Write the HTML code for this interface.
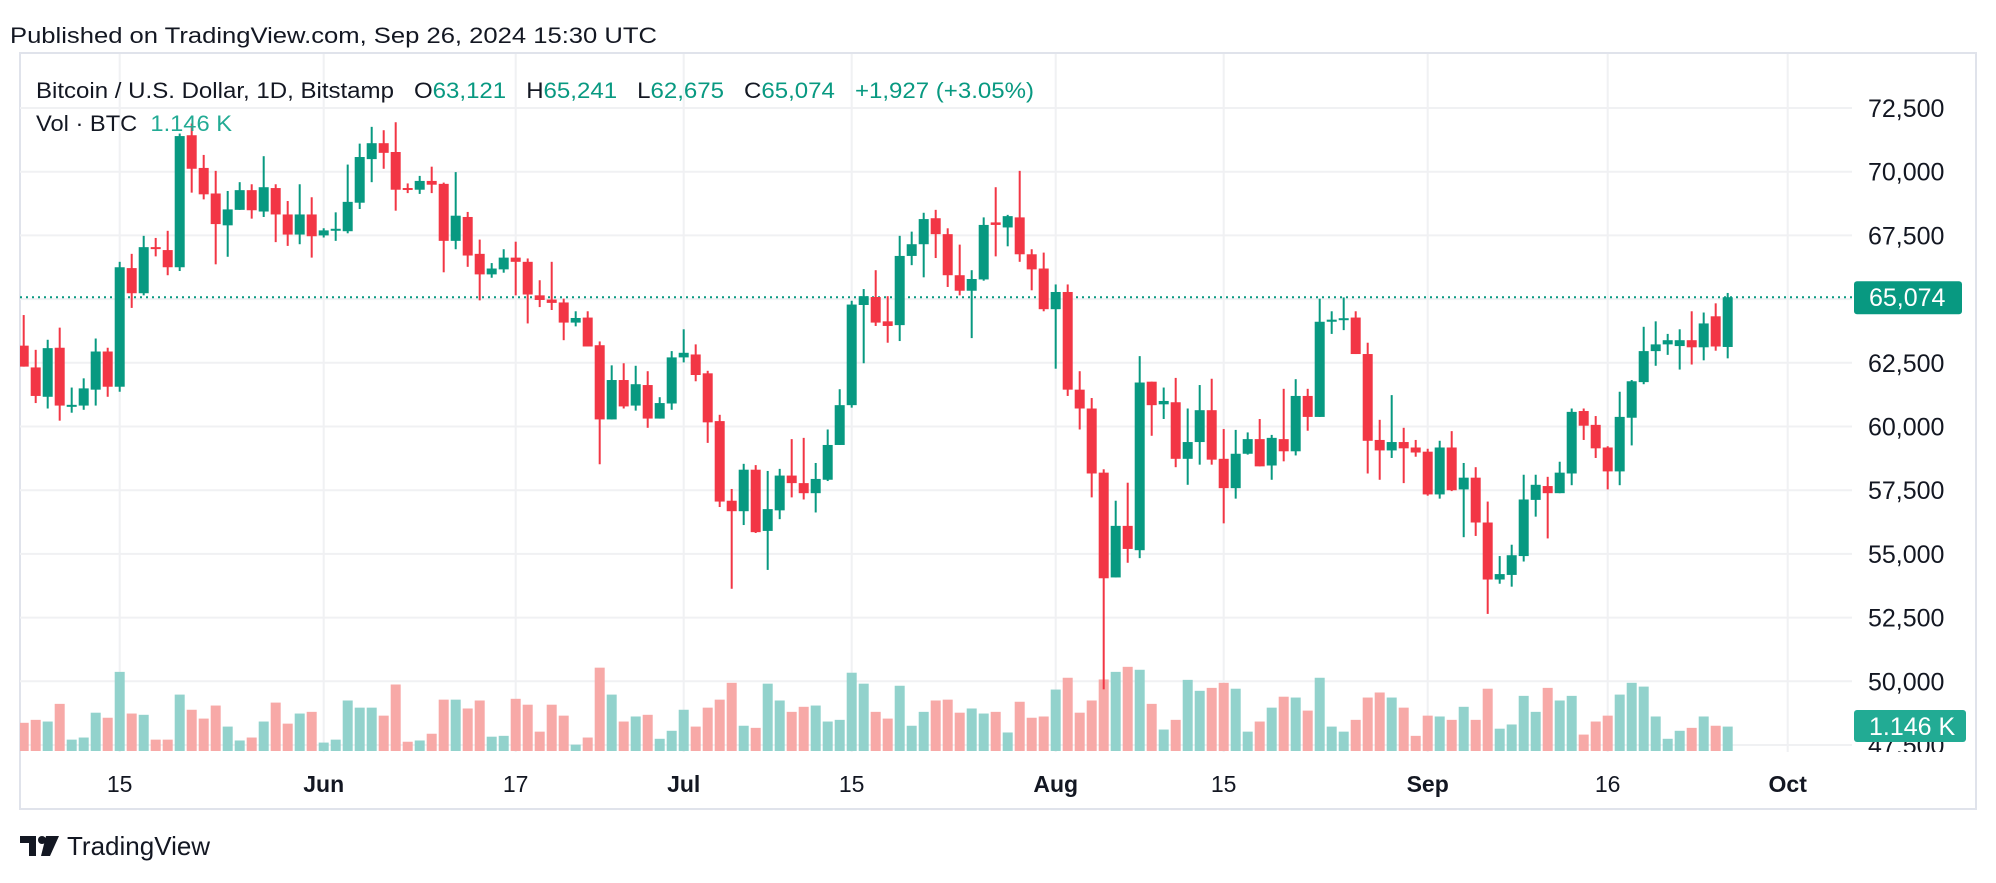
<!DOCTYPE html>
<html><head><meta charset="utf-8"><style>
html,body{margin:0;padding:0;background:#fff;}
body{width:1996px;height:878px;overflow:hidden;font-family:"Liberation Sans",sans-serif;}
svg text{font-family:"Liberation Sans",sans-serif;white-space:pre;}
</style></head><body>
<svg id="chart" width="1996" height="878" viewBox="0 0 1996 878" xmlns="http://www.w3.org/2000/svg">
<defs><clipPath id="plotclip"><rect x="20" y="53" width="1956" height="699"/></clipPath></defs>
<text x="10" y="43" font-size="22" fill="#131722" textLength="647" lengthAdjust="spacingAndGlyphs">Published on TradingView.com, Sep 26, 2024 15:30 UTC</text>
<rect x="20" y="53" width="1956" height="756" fill="none" stroke="#e0e3eb" stroke-width="2"/>
<g id="grid"></g>
<g id="vols" clip-path="url(#plotclip)"></g>
<g id="candles" clip-path="url(#plotclip)"></g>
<g id="yaxis" clip-path="url(#plotclip)"></g>
<g id="xaxis"></g>
<g>
<text x="36" y="98" font-size="22" fill="#131722" textLength="998" lengthAdjust="spacingAndGlyphs">Bitcoin / U.S. Dollar, 1D, Bitstamp   O<tspan fill="#089981">63,121</tspan>   H<tspan fill="#089981">65,241</tspan>   L<tspan fill="#089981">62,675</tspan>   C<tspan fill="#089981">65,074</tspan>   <tspan fill="#089981">+1,927 (+3.05%)</tspan></text>
<text x="36" y="131" font-size="22" fill="#131722" textLength="196" lengthAdjust="spacingAndGlyphs">Vol · BTC  <tspan fill="#22ab94">1.146 K</tspan></text>
</g>
<g>
<path d="M20 836h16v20h-7v-13h-9z M46 836h13l-9 20h-9z" fill="#131722"/>
<circle cx="42" cy="840" r="4" fill="#131722"/>
<text x="67" y="855" font-size="26" fill="#131722">TradingView</text>
</g>
</svg>
<script>
const opens=[63173,62318,61166,63091,60800,60821,61446,62943,61561,66217,65230,67040,66924,66250,71431,70148,69145,67895,68503,69276,68437,69358,68322,67533,68322,67500,67730,67664,68783,70494,71119,70773,69360,69293,69638,69523,67286,68223,66776,65970,66167,66628,66463,65147,64983,64868,64078,64275,63190,60278,61824,60821,61627,60311,60903,62712,62827,62087,60212,57087,56676,58305,55902,56709,58074,57778,57383,57910,59275,60838,64769,65082,64127,63979,66694,67154,68174,67549,65937,65328,65772,68010,67812,68207,66759,66200,64604,65279,61446,60706,58189,54076,56100,55145,61759,60870,60952,58732,59390,60640,58732,57580,58930,59505,58469,59505,59027,61199,60376,64111,64210,64276,62844,59472,59061,59390,59176,59012,57334,59176,57531,57992,56232,53994,54175,54915,57120,57663,57383,58156,60607,60064,59176,58238,60344,61742,62959,63223,63157,63387,63108,64325,63121];
const highs=[64374,63009,63404,63880,61529,61890,63453,63091,66463,66776,67483,67400,67680,71497,71892,70658,70033,69243,69589,69507,70609,69507,68849,69507,68997,67780,68405,70280,71102,71760,71628,71941,69540,69835,70197,69572,69984,68421,67335,66414,66957,67253,66595,65740,66463,65016,64522,64522,63338,62400,62482,62383,62170,61150,62959,63815,63223,62186,60459,57548,58535,58485,58255,58337,59505,59554,58568,59883,61463,64934,65394,66134,65114,67483,67648,68388,68503,67779,67138,66134,68207,69391,68306,70033,66957,66825,65575,65575,62170,61117,58321,57087,57794,62762,61759,61529,61907,60706,61627,61874,59900,59867,59768,60294,59670,61479,61857,61479,65016,64522,65065,64522,63288,60262,61232,59949,59472,59127,59440,59818,58568,58403,57054,54915,55360,58107,58107,58025,58617,60706,60706,60410,59225,61364,61824,63913,64127,63634,63815,64522,64473,64834,65241];
const lows=[62350,60920,60706,60229,60541,60656,60821,61166,61364,64654,65147,66677,65937,66102,69178,68914,66365,66661,68503,68158,68223,67236,67088,67154,66628,67417,67286,67582,68536,69589,70115,68470,69160,69128,69160,66052,66957,66266,64950,65838,66036,65147,64045,64687,64572,63387,63930,63140,58518,60278,60706,60623,59949,60311,60656,62515,61775,59357,56840,53632,56133,55820,54372,56363,57218,57136,56626,57860,59275,60739,62482,63946,63288,63354,66332,65855,66612,65476,65147,63469,65723,66677,67072,66463,65345,64522,62268,61199,59883,57218,49684,54076,54652,54833,59636,60295,58403,57712,58502,58502,56199,57169,58896,58436,57909,58633,58864,59834,60376,63634,63782,62844,58156,57909,58765,57778,58814,57284,57169,57465,55656,55705,52645,53829,53714,54701,56462,55607,57383,57696,59472,58765,57531,57696,59258,61660,62383,62811,62235,62432,62597,62975,62675];
const closes=[62350,61199,63075,60821,60850,61496,62943,61561,66250,65230,67039,66970,66250,71398,70115,69112,67944,68520,69276,68487,69391,68322,67533,68322,67467,67697,67760,68816,70576,71119,70740,69293,69330,69638,69490,67286,68273,66710,65970,66200,66628,66463,65180,64966,64851,64078,64259,63140,60278,61824,60788,61660,60311,60920,62712,62893,62021,60163,57054,56676,58305,55853,56758,58074,57778,57383,57942,59275,60838,64786,65114,64078,63946,66694,67154,68141,67549,65937,65328,65789,67911,67911,68256,66759,66167,64604,65279,61446,60706,58156,54043,56100,55195,61726,60837,61002,58732,59390,60640,58699,57580,58930,59505,58436,59554,59027,61199,60376,64111,64193,64250,62844,59439,59061,59390,59143,58979,57334,59176,57498,57992,56232,53994,54208,54948,57136,57712,57383,58189,60574,60031,59143,58238,60377,61775,62959,63223,63387,63387,63108,64045,63140,65074];
const volumes=[67,74,70,112,27,32,91,79,188,89,86,27,27,134,98,77,108,58,25,32,70,115,65,89,93,20,27,120,103,103,84,158,22,25,41,122,122,101,120,34,36,124,110,46,110,84,15,32,198,134,70,82,86,29,48,98,58,103,122,162,60,55,160,120,93,105,108,70,74,186,160,93,77,155,60,93,120,122,91,101,89,93,44,117,79,82,146,174,91,120,170,188,200,193,112,51,74,169,143,150,162,148,46,70,103,129,127,96,174,58,46,74,127,139,127,103,36,84,82,74,105,74,148,53,63,131,93,150,120,131,39,70,84,134,162,153,82,29,48,55,82,60,58];
const priceTicks=[72500,70000,67500,65000,62500,60000,57500,55000,52500,50000,47500];
const timeTickIdx=[8,25,41,55,69,86,100,117,132,147];
const timeTickLabels=["15","Jun","17","Jul","15","Aug","15","Sep","16","Oct"];
const timeTickBold=[false,true,false,true,false,true,false,true,false,true];
const lastPrice=65074;
</script>
<script>
const NS="http://www.w3.org/2000/svg";
function xOf(i){return 23.7+i*12;}
function yOf(p){return 108+(72500-p)*0.02548;}
function vY(v){return 751-v*0.4209;}
function mk(tag,attrs,parent){const e=document.createElementNS(NS,tag);for(const k in attrs)e.setAttribute(k,attrs[k]);parent.appendChild(e);return e;}
const grid=document.getElementById('grid'),cg=document.getElementById('candles'),vg=document.getElementById('vols'),ya=document.getElementById('yaxis'),xa=document.getElementById('xaxis');
priceTicks.forEach(p=>{
  const l=mk('line',{x1:20,x2:1852,y1:yOf(p),y2:yOf(p),stroke:'#f0f1f3','stroke-width':2},grid);
  
  
  const t=mk('text',{x:1868,y:yOf(p)+9,'font-size':25,fill:'#131722'},ya);
  t.textContent=p.toLocaleString('en-US');
  
  
});
timeTickIdx.forEach((d,k)=>{
  const l=mk('line',{x1:xOf(d),x2:xOf(d),y1:54,y2:752,stroke:'#f0f1f3','stroke-width':2},grid);
  
  
  const t=mk('text',{x:xOf(d),y:792,'font-size':23,fill:'#131722','text-anchor':'middle','font-weight':timeTickBold[k]?'bold':'normal'},xa);
  t.textContent=timeTickLabels[k];
  
  
});
for(let i=0;i<opens.length;i++){
  const up=closes[i]>=opens[i];
  const x=xOf(i);
  const vb=mk('rect',{x:x-5,y:vY(volumes[i]),width:10,height:751-vY(volumes[i]),fill:up?'#92d2cc':'#f7a9a7'},vg);
  
  
}
for(let i=0;i<opens.length;i++){
  const up=closes[i]>=opens[i];
  const col=up?'#089981':'#f23645';
  const x=xOf(i);
  const g=mk('g',{},cg);
  
  
  mk('rect',{x:x-1,y:yOf(highs[i]),width:2,height:Math.max(1,yOf(lows[i])-yOf(highs[i])),fill:col},g);
  const top=yOf(Math.max(opens[i],closes[i])),bot=yOf(Math.min(opens[i],closes[i]));
  mk('rect',{x:x-5,y:top,width:10,height:Math.max(2,bot-top),fill:col},g);
}
const ly=yOf(lastPrice);
const dl=mk('line',{x1:20,x2:1854,y1:ly,y2:ly,stroke:'#089981','stroke-width':2,'stroke-dasharray':'2 4'},grid);


const svg=document.getElementById('chart');
const pt=mk('g',{},svg);


mk('rect',{x:1854,y:ly-16,width:108,height:33,rx:3,fill:'#089981'},pt);
const ptt=mk('text',{x:1869,y:ly+9,'font-size':25,fill:'#fff'},pt);ptt.textContent=lastPrice.toLocaleString('en-US');
const vt=mk('g',{},svg);


mk('rect',{x:1854,y:710,width:112,height:32,rx:3,fill:'#22ab94'},vt);
const vtt=mk('text',{x:1869,y:735,'font-size':25,fill:'#fff'},vt);vtt.textContent='1.146 K';
</script>
</body></html>
